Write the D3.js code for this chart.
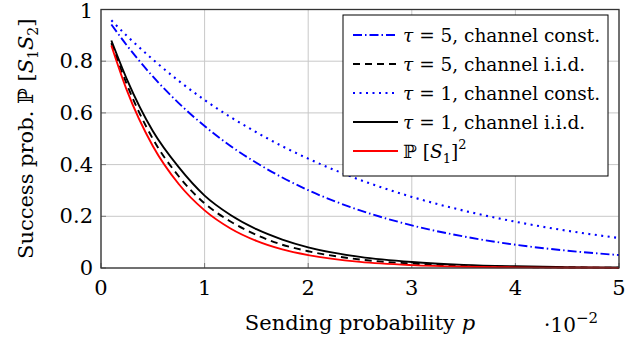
<!DOCTYPE html>
<html>
<head>
<meta charset="utf-8">
<script src="https://cdn.jsdelivr.net/npm/d3@7"></script>
<style>
  body { margin: 0; background: #fff; }
  text { font-family: "DejaVu Serif", "Liberation Serif", "Times New Roman", serif; }
</style>
</head>
<body>
<svg id="chart" width="631" height="337"></svg>
<script>
// sending probability p (x 10^-2)
var pVals = [0.1, 0.25, 0.5, 0.75, 1, 1.25, 1.5, 1.75, 2, 2.5, 3, 3.5, 4, 4.5, 5];

// success probabilities
var tau5Const = [0.942, 0.861, 0.741, 0.638, 0.549, 0.472, 0.407, 0.350, 0.301, 0.223, 0.165, 0.122, 0.090, 0.067, 0.050];
var tau5Iid   = [0.870, 0.710, 0.500, 0.355, 0.250, 0.180, 0.128, 0.090, 0.065, 0.033, 0.017, 0.008, 0.004, 0.002, 0.001];
var tau1Const = [0.958, 0.898, 0.807, 0.724, 0.650, 0.584, 0.525, 0.471, 0.423, 0.341, 0.275, 0.222, 0.179, 0.144, 0.116];
var tau1Iid   = [0.880, 0.730, 0.530, 0.390, 0.280, 0.205, 0.150, 0.110, 0.080, 0.043, 0.023, 0.012, 0.0065, 0.0035, 0.002];
var s1Squared = [0.861, 0.687, 0.472, 0.325, 0.223, 0.153, 0.105, 0.072, 0.050, 0.0235, 0.011, 0.005, 0.0025, 0.0012, 0.0006];

var xTicks = [0, 1, 2, 3, 4, 5];
var yTicks = [0, 0.2, 0.4, 0.6, 0.8, 1];

var series = [
  { label: "5, channel const.", values: tau5Const, color: "#0000ff", dash: "9,3,1.5,3", width: 1.9, tau: true },
  { label: "5, channel i.i.d.", values: tau5Iid, color: "#000", dash: "7,5", width: 1.9, tau: true },
  { label: "1, channel const.", values: tau1Const, color: "#0000ff", dash: "2,4.5", width: 2.1, tau: true },
  { label: "1, channel i.i.d.", values: tau1Iid, color: "#000", dash: null, width: 1.9, tau: true },
  { label: "S1sq", values: s1Squared, color: "#ff0000", dash: null, width: 1.9, tau: false }
];

var svg = d3.select("#chart");
var margin = { top: 9.5, right: 12, bottom: 69, left: 101 };
var width = 631 - margin.left - margin.right,
    height = 337 - margin.top - margin.bottom;

var x = d3.scaleLinear().domain([0, 5]).range([0, width]);
var y = d3.scaleLinear().domain([0, 1]).range([height, 0]);

var g = svg.append("g")
  .attr("transform", "translate(" + margin.left + "," + margin.top + ")");

// grid
g.selectAll(".gx").data(xTicks).enter().append("line")
  .attr("x1", d => x(d)).attr("x2", d => x(d))
  .attr("y1", 0).attr("y2", height)
  .attr("stroke", "#c8c8c8").attr("stroke-width", 1);
g.selectAll(".gy").data(yTicks).enter().append("line")
  .attr("y1", d => y(d)).attr("y2", d => y(d))
  .attr("x1", 0).attr("x2", width)
  .attr("stroke", "#c8c8c8").attr("stroke-width", 1);

// ticks (inside)
g.selectAll(".tx").data(xTicks).enter().append("line")
  .attr("x1", d => x(d)).attr("x2", d => x(d))
  .attr("y1", height).attr("y2", height - 5)
  .attr("stroke", "#777");
g.selectAll(".ty").data(yTicks).enter().append("line")
  .attr("y1", d => y(d)).attr("y2", d => y(d))
  .attr("x1", 0).attr("x2", 5)
  .attr("stroke", "#777");

// curves
var line = d3.line()
  .x((d, i) => x(pVals[i]))
  .y(d => y(d))
  .curve(d3.curveMonotoneX);

series.forEach(function (s) {
  g.append("path")
    .datum(s.values)
    .attr("fill", "none")
    .attr("stroke", s.color)
    .attr("stroke-width", s.width)
    .attr("stroke-dasharray", s.dash)
    .attr("d", line);
});

// frame
g.append("rect")
  .attr("x", 0).attr("y", 0)
  .attr("width", width).attr("height", height)
  .attr("fill", "none")
  .attr("stroke", "#333").attr("stroke-width", 1.3);

// tick labels
g.selectAll(".lx").data(xTicks).enter().append("text")
  .attr("x", d => x(d)).attr("y", height + 27)
  .attr("text-anchor", "middle")
  .attr("font-size", 21)
  .text(d => d);
g.selectAll(".ly").data(yTicks).enter().append("text")
  .attr("x", -8).attr("y", d => Math.max(y(d) + 7, 8.5))
  .attr("text-anchor", "end")
  .attr("font-size", 21)
  .text(d => d);

// axis labels
svg.append("text")
  .attr("x", margin.left + width / 2).attr("y", 330)
  .attr("text-anchor", "middle")
  .attr("font-size", 21)
  .html('Sending probability <tspan font-style="italic">p</tspan>');

svg.append("text")
  .attr("x", 598).attr("y", 332)
  .attr("text-anchor", "end")
  .attr("font-size", 20)
  .html('·10<tspan dy="-9" font-size="15">−2</tspan>');

var yl = svg.append("text")
  .attr("transform", "translate(33," + (margin.top + height / 2) + ") rotate(-90)")
  .attr("text-anchor", "middle")
  .attr("font-size", 21);
yl.append("tspan").text("Success prob. ℙ [");
yl.append("tspan").attr("font-style", "italic").text("S");
yl.append("tspan").attr("font-size", 14).attr("dy", 5).text("1");
yl.append("tspan").attr("font-style", "italic").attr("dy", -5).text("S");
yl.append("tspan").attr("font-size", 14).attr("dy", 5).text("2");
yl.append("tspan").attr("dy", -5).text("]");

// legend
var lg = svg.append("g").attr("transform", "translate(343,15)");
lg.append("rect")
  .attr("width", 265).attr("height", 161)
  .attr("fill", "#fff").attr("stroke", "#000").attr("stroke-width", 1);

series.forEach(function (s, i) {
  var yy = 20 + i * 29;
  lg.append("line")
    .attr("x1", 10).attr("x2", 55)
    .attr("y1", yy).attr("y2", yy)
    .attr("stroke", s.color)
    .attr("stroke-width", s.width)
    .attr("stroke-dasharray", s.dash);
  var t = lg.append("text")
    .attr("x", 60).attr("y", yy + 7)
    .attr("font-size", 18.5);
  if (s.tau) {
    t.append("tspan").attr("font-style", "italic").text("τ");
    t.append("tspan").text(" = " + s.label);
  } else {
    t.append("tspan").text("ℙ [");
    t.append("tspan").attr("font-style", "italic").text("S");
    t.append("tspan").attr("font-size", 13).attr("dy", 5).text("1");
    t.append("tspan").attr("dy", -5).text("]");
    t.append("tspan").attr("font-size", 13).attr("dy", -9).text("2");
  }
});
</script>
</body>
</html>
